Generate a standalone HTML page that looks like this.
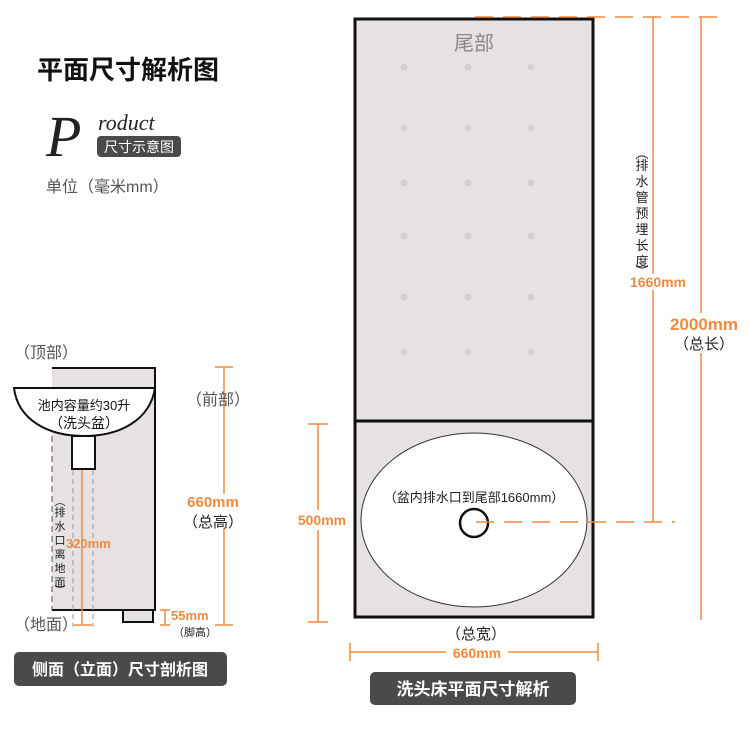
<!DOCTYPE html>
<html><head><meta charset="utf-8"><style>
html,body{margin:0;padding:0;background:#fff;}
svg{display:block;font-family:"Liberation Sans","Noto Sans CJK SC",sans-serif;}
</style></head><body>
<svg width="750" height="741" viewBox="0 0 750 741" xmlns="http://www.w3.org/2000/svg">
<!-- header -->
<text x="37" y="79" font-size="26" font-weight="bold" fill="#111">平面尺寸解析图</text>
<text x="46" y="156" font-size="58" font-style="italic" font-family="Liberation Serif,serif" fill="#222">P</text>
<text x="98" y="130" font-size="22" font-style="italic" font-family="Liberation Serif,serif" fill="#222">roduct</text>
<rect x="97" y="136" width="84" height="21" rx="4" fill="#4a4a4a"/>
<text x="139" y="152" font-size="14" fill="#fff" text-anchor="middle">尺寸示意图</text>
<text x="46" y="192" font-size="16" fill="#555">单位（毫米mm）</text>

<!-- top view -->
<rect x="355" y="19" width="238" height="598" fill="#e5e2e1" stroke="#111" stroke-width="3"/>
<line x1="355" y1="421" x2="593" y2="421" stroke="#111" stroke-width="3"/>
<text x="474" y="50" font-size="20" fill="#888" text-anchor="middle">尾部</text>
<g fill="#d3d0cf">
<circle cx="404" cy="67" r="3.5"/><circle cx="468" cy="67" r="3.5"/><circle cx="531" cy="67" r="3.5"/>
<circle cx="404" cy="128" r="3.5"/><circle cx="468" cy="128" r="3.5"/><circle cx="531" cy="128" r="3.5"/>
<circle cx="404" cy="183" r="3.5"/><circle cx="468" cy="183" r="3.5"/><circle cx="531" cy="183" r="3.5"/>
<circle cx="404" cy="236" r="3.5"/><circle cx="468" cy="236" r="3.5"/><circle cx="531" cy="236" r="3.5"/>
<circle cx="404" cy="297" r="3.5"/><circle cx="468" cy="297" r="3.5"/><circle cx="531" cy="297" r="3.5"/>
<circle cx="404" cy="352" r="3.5"/><circle cx="468" cy="352" r="3.5"/><circle cx="531" cy="352" r="3.5"/>
</g>
<ellipse cx="474" cy="520" rx="113" ry="87" fill="#fff" stroke="#333" stroke-width="1"/>
<text x="474" y="502" font-size="13" fill="#222" text-anchor="middle">（盆内排水口到尾部1660mm）</text>
<circle cx="474" cy="523" r="14" fill="none" stroke="#111" stroke-width="2.5"/>

<g stroke="#f08a3e" stroke-width="1.5" fill="none">
<line x1="475" y1="17" x2="718" y2="17" stroke-dasharray="18,10"/>
<line x1="476" y1="522" x2="675" y2="522" stroke-dasharray="18,10"/>
<line x1="653" y1="17" x2="653" y2="522"/>
<line x1="701" y1="17" x2="701" y2="620"/>
<line x1="318" y1="424" x2="318" y2="622"/>
<line x1="308" y1="424" x2="328" y2="424"/><line x1="308" y1="622" x2="328" y2="622"/>
<line x1="350" y1="652" x2="598" y2="652"/>
<line x1="350" y1="643" x2="350" y2="661"/><line x1="598" y1="643" x2="598" y2="661"/>
</g>
<rect x="634" y="146" width="16" height="126" fill="#fff"/>
<text font-size="13" fill="#222" text-anchor="middle">
<tspan x="642" y="158">︵</tspan><tspan x="642" y="170">排</tspan><tspan x="642" y="186">水</tspan><tspan x="642" y="202">管</tspan><tspan x="642" y="218">预</tspan><tspan x="642" y="234">埋</tspan><tspan x="642" y="250">长</tspan><tspan x="642" y="266">度</tspan><tspan x="642" y="276">︶</tspan>
</text>
<rect x="625" y="274" width="68" height="16" fill="#fff"/>
<text x="658" y="287" font-size="14" font-weight="bold" fill="#f08a3e" text-anchor="middle">1660mm</text>
<rect x="664" y="313" width="80" height="40" fill="#fff"/>
<text x="704" y="330" font-size="17" font-weight="bold" fill="#f08a3e" text-anchor="middle">2000mm</text>
<text x="704" y="349" font-size="15" fill="#222" text-anchor="middle">（总长）</text>
<rect x="292" y="510" width="60" height="20" fill="#fff"/>
<text x="322" y="525" font-size="14" font-weight="bold" fill="#f08a3e" text-anchor="middle">500mm</text>
<text x="476" y="639" font-size="15" fill="#222" text-anchor="middle">（总宽）</text>
<rect x="446" y="644" width="62" height="16" fill="#fff"/>
<text x="477" y="658" font-size="14" font-weight="bold" fill="#f08a3e" text-anchor="middle">660mm</text>
<rect x="370" y="672" width="206" height="33" rx="5" fill="#4a4a4a"/>
<text x="473" y="695" font-size="17" font-weight="bold" fill="#fff" text-anchor="middle">洗头床平面尺寸解析</text>

<!-- side view -->
<text x="14" y="358" font-size="16" fill="#555">（顶部）</text>
<rect x="52" y="368" width="103" height="242" fill="#e5e2e1"/>
<path d="M52 368 H155 V610 H52" fill="none" stroke="#111" stroke-width="2"/>
<line x1="52" y1="436" x2="52" y2="610" stroke="#555" stroke-width="1" stroke-dasharray="6,4"/>
<line x1="73" y1="470" x2="73" y2="627" stroke="#999" stroke-width="1" stroke-dasharray="5,4"/>
<line x1="93" y1="470" x2="93" y2="627" stroke="#999" stroke-width="1" stroke-dasharray="5,4"/>
<path d="M14 388 H155 C150 420 120 436 84 436 C48 436 18 420 14 388 Z" fill="#fff" stroke="#111" stroke-width="2"/>
<rect x="72" y="436" width="23" height="33" fill="#fff" stroke="#111" stroke-width="2"/>
<rect x="123" y="610" width="30" height="12" fill="#e5e2e1" stroke="#111" stroke-width="2"/>
<text x="84" y="410" font-size="13" fill="#111" text-anchor="middle">池内容量约30升</text>
<text x="84" y="428" font-size="14" fill="#111" text-anchor="middle">（洗头盆）</text>
<text font-size="11" fill="#222" text-anchor="middle">
<tspan x="60" y="505">︵</tspan><tspan x="60" y="516">排</tspan><tspan x="60" y="530">水</tspan><tspan x="60" y="544">口</tspan><tspan x="60" y="558">离</tspan><tspan x="60" y="572">地</tspan><tspan x="60" y="586">面</tspan><tspan x="60" y="594">︶</tspan>
</text>
<g stroke="#f08a3e" stroke-width="1.5">
<line x1="82" y1="470" x2="82" y2="625"/><line x1="74" y1="625" x2="92" y2="625"/>
<line x1="224" y1="367" x2="224" y2="625"/><line x1="215" y1="367" x2="233" y2="367"/><line x1="215" y1="625" x2="233" y2="625"/>
<line x1="165" y1="610" x2="165" y2="625"/><line x1="160" y1="610" x2="170" y2="610"/><line x1="160" y1="625" x2="170" y2="625"/>
</g>
<text x="66" y="548" font-size="13" font-weight="bold" fill="#f08a3e">320mm</text>
<text x="186" y="405" font-size="16" fill="#555">（前部）</text>
<rect x="184" y="494" width="60" height="34" fill="#fff"/>
<text x="213" y="507" font-size="15" font-weight="bold" fill="#f08a3e" text-anchor="middle">660mm</text>
<text x="213" y="527" font-size="15" fill="#222" text-anchor="middle">（总高）</text>
<text x="171" y="620" font-size="13" font-weight="bold" fill="#f08a3e">55mm</text>
<text x="173" y="636" font-size="11" fill="#222">（脚高）</text>
<text x="14" y="630" font-size="16" fill="#555">（地面）</text>
<rect x="14" y="652" width="213" height="34" rx="5" fill="#4a4a4a"/>
<text x="120" y="675" font-size="16" font-weight="bold" fill="#fff" text-anchor="middle">侧面（立面）尺寸剖析图</text>
</svg>
</body></html>
